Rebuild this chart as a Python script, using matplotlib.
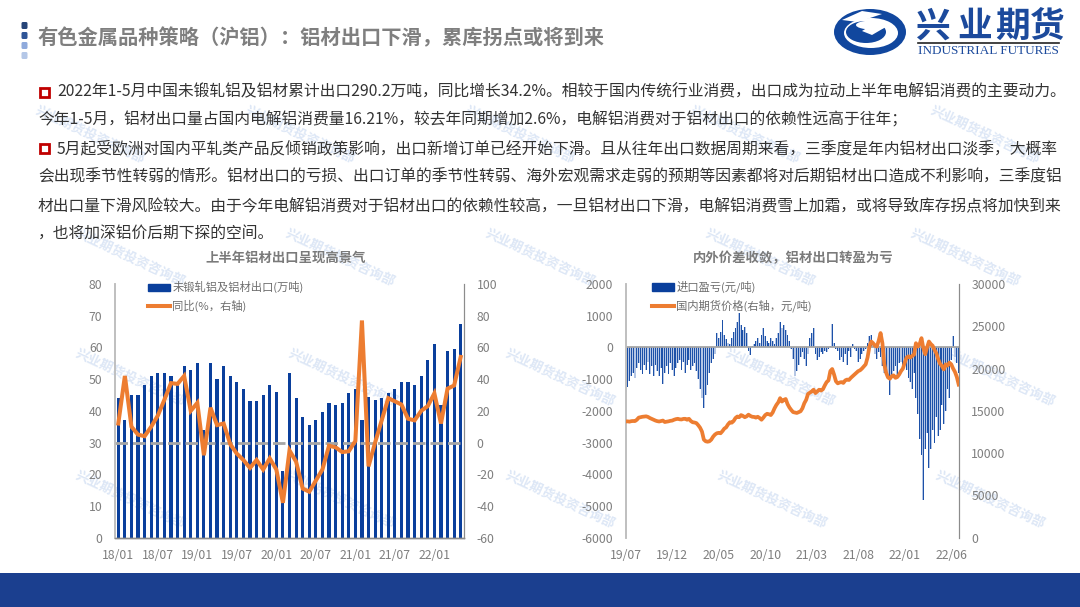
import numpy as np
import matplotlib
matplotlib.use("Agg")
import matplotlib.pyplot as plt
from matplotlib.patches import Rectangle, Ellipse, Polygon, FancyBboxPatch
from matplotlib.lines import Line2D
from matplotlib.patches import Patch

plt.rcParams['font.family'] = ['Noto Sans CJK SC', 'DejaVu Sans']
plt.rcParams['axes.unicode_minus'] = False

# Page text
page_title = "有色金属品种策略（沪铝）：铝材出口下滑，累库拐点或将到来"
body_lines = [
    "2022年1-5月中国未锻轧铝及铝材累计出口290.2万吨，同比增长34.2%。相较于国内传统行业消费，出口成为拉动上半年电解铝消费的主要动力。",
    "今年1-5月，铝材出口量占国内电解铝消费量16.21%，较去年同期增加2.6%，电解铝消费对于铝材出口的依赖性远高于往年；",
    "5月起受欧洲对国内平轧类产品反倾销政策影响，出口新增订单已经开始下滑。且从往年出口数据周期来看，三季度是年内铝材出口淡季，大概率",
    "会出现季节性转弱的情形。铝材出口的亏损、出口订单的季节性转弱、海外宏观需求走弱的预期等因素都将对后期铝材出口造成不利影响，三季度铝",
    "材出口量下滑风险较大。由于今年电解铝消费对于铝材出口的依赖性较高，一旦铝材出口下滑，电解铝消费雪上加霜，或将导致库存拐点将加快到来",
    "，也将加深铝价后期下探的空间。",
]
watermark = "兴业期货投资咨询部"

# Left chart
left_title = "上半年铝材出口呈现高景气"
left_bar_label = "未锻轧铝及铝材出口(万吨)"
left_line_label = "同比(%，右轴)"
export_vol = [44, 37, 45, 45, 48, 51, 52, 52, 51, 48, 54, 53, 55, 34, 55, 50, 54, 51,
              49, 47, 43, 43, 45, 48, 46, 21, 52, 44, 38, 35.5, 37, 39.5, 42.5, 42, 42.5,
              45.5, 47, 37, 44.5, 43.5, 44, 45.5, 47, 49, 49, 48, 51, 56, 61, 42, 59, 59.5, 67.5]
export_yoy = [12, 42, 10, 5, 4, 10, 17, 27, 37.5, 37, 42, 20, 25, -8, 22, 11, 12, -1,
              -7, -11, -16, -11, -17, -10, -17, -38, -5, -12, -29, -31, -24, -17, -2, -3, -6,
              -5.5, 1, 77, -15, 0, 14, 28, 26, 24, 15, 14, 20, 23, 31, 12, 34, 36, 54]
left_xticks = ["18/01", "18/07", "19/01", "19/07", "20/01", "20/07", "21/01", "21/07", "22/01"]

# Right chart
right_title = "内外价差收敛，铝材出口转盈为亏"
right_bar_label = "进口盈亏(元/吨)"
right_line_label = "国内期货价格(右轴，元/吨)"
import_pnl = [
    -1400, -1250, -1050, -900, -800, -950, -650, -500, -700, -850,
    -550, -700, -450, -850, -600, -900, -550, -750, -900, -650,
    -1150, -800, -600, -850, -500, -700, -900, -650, -500, -400,
    -700, -450, -800, -550, -400, -700, -600, -500, -750, -1000,
    -1300, -1600, -1900, -1500, -1200, -800, -500, -350, -200, 450,
    300, 500, 850, 400, 250, 150, 120, 300, 500, 600,
    800, 1100, 700, 550, 650, 450, -100, -250, 50, 100,
    200, 300, 150, 400, 600, 350, 200, 150, 300, 200,
    100, 300, 450, 800, 600, 700, 550, 400, 200, -50,
    -350, -900, -750, -550, -300, -150, -350, -600, -200, 300,
    450, 600, -200, -400, -300, -150, -200, -100, -150, -50,
    50, 750, 150, -50, -100, -400, -300, -450, -200, -550,
    -100, -300, 100, -50, -100, -450, -350, -200, -100, -50,
    150, 350, 400, 100, -200, -350, -150, -300, -600, -800,
    -850, -1000, -1500, -900, -750, -600, -900, -500, -450, -700,
    -400, -700, -950, -1100, -1300, -800, -1600, -2100, -2900, -3400,
    -4800, -3200, -2700, -3800, -3200, -2600, -3000, -2200, -2800, -2600,
    -1800, -2400, -2000, -1300, -1600, -400, 350, -300, -500, -800,
]
futures_price = [
    13740, 13760, 13720, 13780, 13800, 13790, 13950, 14200, 14250, 14300,
    14330, 14350, 14280, 14150, 14050, 13950, 13850, 13780, 13740, 13800,
    13850, 13680, 13720, 13760, 13820, 13850, 13950, 14020, 14060, 14000,
    13980, 14050, 14060, 13950, 14060, 13800, 13650, 13620, 13550, 13300,
    13000, 12550, 11600, 11400, 11350, 11400, 11600, 11950, 12200, 12350,
    12400, 12350, 12600, 12900, 13050, 13400, 13650, 13600, 13800, 14150,
    14330, 14250, 14500, 14400, 14250, 14350, 14550, 14400, 14300, 14280,
    14200, 14300, 14150, 13950, 14200, 14500, 14650, 14600, 14500, 14800,
    15300, 15700, 16000, 16500, 16100, 16300, 16400, 15800, 15400, 15100,
    14850, 14800, 14750, 14850, 14950, 15300, 15900, 16300, 17000, 17150,
    17300, 17500, 17100, 17300, 17500, 17400, 17550, 18000, 18400, 18600,
    19700, 19950, 19300, 18500, 18250, 18350, 18400, 18300, 18600, 18700,
    18650, 18900, 19100, 19300, 19500, 19700, 19800, 20000, 20250, 20500,
    21300, 22600, 23200, 23000, 22700, 22600, 23300, 24200, 23000, 20500,
    19500, 18950, 18800, 19100, 19200, 18900, 19000, 19300, 19700, 20000,
    20700, 21300, 21450, 21300, 21500, 21650, 23000, 22600, 22900, 23600,
    22400, 21700, 22500, 23200, 22900, 22700, 22200, 21800, 21100, 20550,
    20300, 19900, 20500, 20350, 20700, 20500, 20000, 19600, 19000, 18100,
]
right_xticks = ["19/07", "19/12", "20/05", "20/10", "21/03", "21/08", "22/01", "22/06"]

BLUE = "#0a3f9c"
ORANGE = "#ed7d31"
GRAY_TEXT = "#7f7f7f"

W, H = 1080, 607
fig = plt.figure(figsize=(W / 100, H / 100), dpi=100)
fig.patch.set_facecolor("white")

# pixel coordinate layer for header, footer, text
page = fig.add_axes([0, 0, 1, 1], zorder=0)
page.set_xlim(0, W)
page.set_ylim(H, 0)
page.axis("off")

# footer
page.add_patch(Rectangle((0, 573), W, 34, color="#1b3f8f", lw=0))

# title marks
for y0, col in zip([22, 32, 42, 52], ["#264478", "#2f5597", "#8faadc", "#b4c7e7"]):
    page.add_patch(FancyBboxPatch((21.5, y0), 6, 7, boxstyle="round,pad=0,rounding_size=1.5", color=col, lw=0))
page.text(37, 38, page_title, fontsize=14.6, fontweight="bold", color="#7f7f7f", va="center", ha="left")

# watermarks
for wy, xs in zip([135, 258, 378, 500],
                  [[90, 300, 520, 745, 985], [130, 340, 540, 760, 965],
                   [130, 343, 560, 780, 1000], [130, 340, 560, 772, 990]]):
    for wx in xs:
        page.text(wx, wy, watermark, fontsize=9.5, fontweight="bold", color="#dde7f6",
                  rotation=-25, rotation_mode="anchor", ha="center", va="center")

# body text
line_y = [91.5, 120, 148.5, 177, 205.5, 234]
line_x = [57, 38, 57, 38, 38, 38]
for tx, ty, txt in zip(line_x, line_y, body_lines):
    page.text(tx, ty, txt, fontsize=11.35, color="#333333", va="center", ha="left")
for by in [92, 148]:
    page.add_patch(Rectangle((40, by - 4.5), 9, 9, fill=False, ec="#c00000", lw=2))

# logo
page.add_patch(Ellipse((870, 32), 72, 46, color="#11479e", lw=0))
page.add_patch(Ellipse((871, 33), 54, 30, color="white", lw=0))
page.add_patch(Polygon([[842, 20], [862, 11], [882, 14], [858, 22]], color="white", lw=0))
page.add_patch(Ellipse((866, 32), 40, 22, color="#11479e", lw=0))
page.add_patch(Ellipse((872, 25), 32, 9, color="white", lw=0))
page.add_patch(Polygon([[862, 31], [872, 35], [884, 28], [873, 24]], color="white", lw=0))
for ch, cx in zip("兴业期货", [933, 975, 1013, 1047]):
    page.text(cx, 26, ch, fontsize=25, fontweight="bold", color="#1c4a9c", ha="center", va="center")
page.plot([918, 1059], [43, 43], color="#222222", lw=1.2)
page.text(918, 50.5, "INDUSTRIAL FUTURES", fontsize=9.5, family="Liberation Serif", color="#1c4a9c",
          va="center", ha="left")


def make_axes(x0, x1, y0=284, y1=537.7):
    ax = fig.add_axes([x0 / W, 1 - y1 / H, (x1 - x0) / W, (y1 - y0) / H], zorder=2)
    ax.patch.set_alpha(0)
    ax.tick_params(length=0, labelsize=8.8, labelcolor=GRAY_TEXT)
    ax2 = ax.twinx()
    ax2.patch.set_alpha(0)
    ax2.tick_params(length=0, labelsize=8.8, labelcolor=GRAY_TEXT)
    for a in (ax, ax2):
        a.spines["top"].set_visible(False)
    return ax, ax2


def add_legend(ax2, labels, x_anchor):
    ax2.legend([Patch(color=BLUE), Line2D([0], [0], color=ORANGE, lw=2.9)], labels,
               loc="upper left", bbox_to_anchor=(x_anchor, 1.012), frameon=False, fontsize=8.15,
               labelcolor="#6e6e6e", handlelength=1.95, handleheight=0.6, handletextpad=0.2,
               labelspacing=0.55, borderpad=0, borderaxespad=0)


# Left chart
ax, ax2 = make_axes(115, 464)
x = np.arange(len(export_vol))
ax.bar(x, export_vol, width=0.48, color=BLUE, zorder=2)
ax.set_xlim(-0.5, len(x) - 0.5)
ax.set_ylim(0, 80)
ax.set_yticks(range(0, 81, 10))
ax.set_xticks(x[::6])
ax.set_xticklabels(left_xticks)
ax2.axhline(0, color="#a6a6a6", lw=2, dashes=(4.5, 1.8), zorder=1)
ax2.plot(x, export_yoy, color=ORANGE, lw=2.9, solid_joinstyle="miter", zorder=3)
ax2.set_ylim(-60, 100)
ax2.set_yticks(range(-60, 101, 20))
for a in (ax, ax2):
    a.spines["left"].set_color("#bfbfbf")
    a.spines["right"].set_color("#8c8c8c")
    a.spines["bottom"].set_color("#8c8c8c")
    a.spines["left"].set_linewidth(1.2)
    a.spines["right"].set_linewidth(0.8)
    a.spines["bottom"].set_linewidth(1.0)
ax.tick_params(axis="x", pad=8)
ax.tick_params(axis="y", pad=9)
ax2.tick_params(axis="y", pad=9)
page.text(286, 258, left_title, fontsize=9.6, fontweight="bold", color="#7a7a7a", ha="center", va="center")
add_legend(ax2, [left_bar_label, left_line_label], 0.0946)

# Right chart
ax, ax2 = make_axes(625.7, 958.7)
x = np.arange(len(import_pnl))
ax.bar(x, import_pnl, width=1.0, color="#b5c6e4", lw=0, zorder=1)
ax.bar(x, import_pnl, width=0.5, color="#1d51a8", lw=0, zorder=2)
ax.axhline(0, color="#a6a6a6", lw=1.3, zorder=3)
ax.set_xlim(0, 179)
ax.set_ylim(-6000, 2000)
ax.set_yticks(range(-6000, 2001, 1000))
ax.set_xticks(x[::25])
ax.set_xticklabels(right_xticks)
ax2.plot(x, futures_price, color=ORANGE, lw=2.7, zorder=4)
ax2.set_ylim(0, 30000)
ax2.set_yticks(range(0, 30001, 5000))
for a in (ax, ax2):
    a.spines["bottom"].set_visible(False)
    a.spines["left"].set_color("#bfbfbf")
    a.spines["right"].set_color("#8c8c8c")
    a.spines["left"].set_linewidth(1.2)
    a.spines["right"].set_linewidth(0.8)
ax.tick_params(axis="x", pad=8)
ax.tick_params(axis="y", pad=9)
ax2.tick_params(axis="y", pad=9)
page.text(793, 258, right_title, fontsize=9.6, fontweight="bold", color="#7a7a7a", ha="center", va="center")
add_legend(ax2, [right_bar_label, right_line_label], 0.079)

fig.savefig("out.png", dpi=100)
